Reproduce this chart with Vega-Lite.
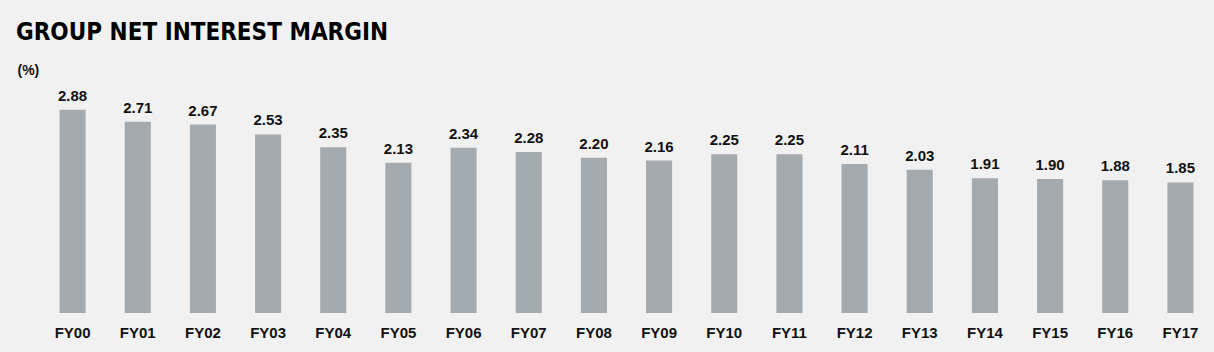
{
  "$schema": "https://vega.github.io/schema/vega-lite/v6.json",
  "autosize": {"type": "none"},
  "width": 1173,
  "height": 223,
  "padding": {"left": 40, "top": 90, "right": 1, "bottom": 39},
  "background": "#f1f1f1",
  "title": {
    "text": "GROUP NET INTEREST MARGIN",
    "anchor": "start",
    "frame": "group",
    "dx": -24,
    "offset": 18,
    "font": "DejaVu Sans Condensed",
    "fontWeight": "bold",
    "fontSize": 24,
    "color": "#000000"
  },
  "config": {
    "view": {"stroke": null},
    "axis": {"grid": false, "domain": false, "ticks": false}
  },
  "data": {
    "values": [
      {"year": "FY00", "nim": 2.88},
      {"year": "FY01", "nim": 2.71},
      {"year": "FY02", "nim": 2.67},
      {"year": "FY03", "nim": 2.53},
      {"year": "FY04", "nim": 2.35},
      {"year": "FY05", "nim": 2.13},
      {"year": "FY06", "nim": 2.34},
      {"year": "FY07", "nim": 2.28},
      {"year": "FY08", "nim": 2.20},
      {"year": "FY09", "nim": 2.16},
      {"year": "FY10", "nim": 2.25},
      {"year": "FY11", "nim": 2.25},
      {"year": "FY12", "nim": 2.11},
      {"year": "FY13", "nim": 2.03},
      {"year": "FY14", "nim": 1.91},
      {"year": "FY15", "nim": 1.90},
      {"year": "FY16", "nim": 1.88},
      {"year": "FY17", "nim": 1.85}
    ]
  },
  "encoding": {
    "x": {
      "field": "year",
      "type": "nominal",
      "sort": null,
      "scale": {"paddingInner": 0.6, "paddingOuter": 0.3},
      "axis": {
        "title": null,
        "labelAngle": 0,
        "labelFont": "Liberation Sans",
        "labelFontWeight": "bold",
        "labelFontSize": 15,
        "labelColor": "#111111",
        "labelPadding": 12
      }
    },
    "y": {
      "field": "nim",
      "type": "quantitative",
      "scale": {"domain": [0, 3.16]},
      "axis": {
        "title": "(%)",
        "labels": false,
        "titleAngle": 0,
        "titleX": -23,
        "titleY": -27,
        "titleAlign": "left",
        "titleBaseline": "top",
        "titleFont": "Liberation Sans",
        "titleFontWeight": "bold",
        "titleFontSize": 14,
        "titleColor": "#111111"
      }
    }
  },
  "layer": [
    {"mark": {"type": "bar", "color": "#a5aaaf"}},
    {
      "mark": {
        "type": "text",
        "baseline": "alphabetic",
        "dy": -9,
        "font": "Liberation Sans",
        "fontWeight": "bold",
        "fontSize": 15,
        "color": "#111111"
      },
      "encoding": {"text": {"field": "nim", "type": "quantitative", "format": ".2f"}}
    }
  ]
}
